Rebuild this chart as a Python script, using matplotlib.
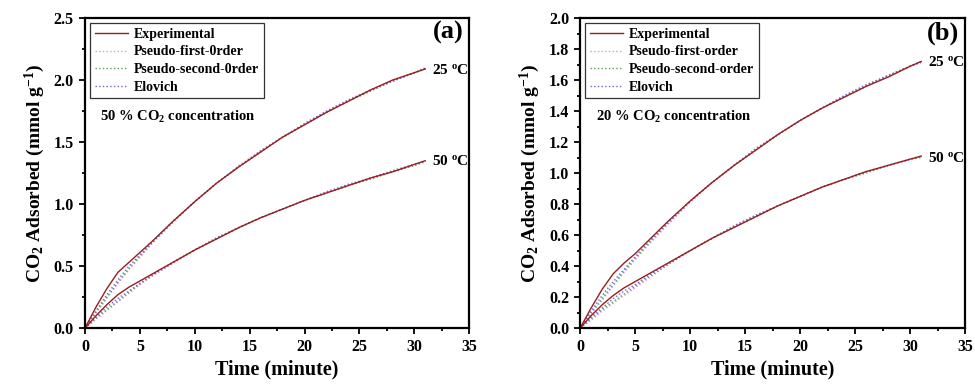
import matplotlib
matplotlib.use("Agg")
import matplotlib.pyplot as plt
from matplotlib.ticker import MultipleLocator, FormatStrFormatter

plt.rcParams['font.family'] = ['Liberation Serif', 'DejaVu Serif']
plt.rcParams['font.weight'] = 'bold'
plt.rcParams['mathtext.fontset'] = 'custom'
plt.rcParams['mathtext.rm'] = 'Liberation Serif:bold'
plt.rcParams['mathtext.bf'] = 'Liberation Serif:bold'
plt.rcParams['mathtext.it'] = 'Liberation Serif:bold:italic'

# time points (minute)
t = [0, 1, 2, 3, 4, 5, 6, 8, 10, 12, 14, 16, 18, 20, 22, 24, 26, 28, 30, 31]

# (a) 50 % CO2
a25_exp = [0, 0.17, 0.32, 0.45, 0.53, 0.61, 0.69, 0.86, 1.02, 1.17, 1.30, 1.42, 1.54, 1.64, 1.74, 1.83, 1.92, 2.00, 2.06, 2.09]
a25_pfo = [0, 0.12, 0.24, 0.36, 0.47, 0.57, 0.67, 0.85, 1.02, 1.17, 1.31, 1.43, 1.54, 1.65, 1.75, 1.84, 1.92, 1.99, 2.06, 2.09]
a25_pso = [0, 0.13, 0.25, 0.37, 0.48, 0.58, 0.68, 0.86, 1.02, 1.17, 1.30, 1.42, 1.54, 1.64, 1.74, 1.83, 1.91, 1.99, 2.06, 2.09]
a25_elo = [0, 0.14, 0.27, 0.39, 0.50, 0.59, 0.68, 0.86, 1.02, 1.17, 1.30, 1.43, 1.54, 1.65, 1.75, 1.84, 1.92, 1.99, 2.06, 2.10]
a50_exp = [0, 0.10, 0.19, 0.27, 0.33, 0.38, 0.43, 0.53, 0.63, 0.72, 0.81, 0.89, 0.96, 1.03, 1.09, 1.15, 1.21, 1.26, 1.32, 1.35]
a50_pfo = [0, 0.07, 0.14, 0.21, 0.28, 0.35, 0.41, 0.52, 0.63, 0.72, 0.81, 0.89, 0.96, 1.03, 1.09, 1.15, 1.21, 1.26, 1.32, 1.35]
a50_pso = [0, 0.08, 0.15, 0.22, 0.29, 0.36, 0.42, 0.53, 0.63, 0.72, 0.81, 0.89, 0.96, 1.03, 1.09, 1.15, 1.20, 1.26, 1.31, 1.34]
a50_elo = [0, 0.09, 0.17, 0.24, 0.30, 0.36, 0.42, 0.53, 0.63, 0.73, 0.81, 0.89, 0.96, 1.03, 1.10, 1.16, 1.21, 1.27, 1.32, 1.35]

# (b) 20 % CO2
b25_exp = [0, 0.13, 0.25, 0.35, 0.42, 0.48, 0.55, 0.69, 0.82, 0.94, 1.05, 1.15, 1.25, 1.34, 1.42, 1.49, 1.56, 1.62, 1.69, 1.72]
b25_pfo = [0, 0.09, 0.18, 0.27, 0.36, 0.44, 0.52, 0.67, 0.81, 0.94, 1.05, 1.16, 1.25, 1.34, 1.42, 1.50, 1.57, 1.63, 1.69, 1.71]
b25_pso = [0, 0.10, 0.19, 0.28, 0.37, 0.45, 0.53, 0.68, 0.82, 0.94, 1.05, 1.15, 1.25, 1.34, 1.42, 1.49, 1.56, 1.63, 1.69, 1.72]
b25_elo = [0, 0.11, 0.21, 0.30, 0.38, 0.46, 0.54, 0.68, 0.82, 0.94, 1.05, 1.16, 1.25, 1.34, 1.42, 1.50, 1.57, 1.63, 1.69, 1.72]
b50_exp = [0, 0.08, 0.15, 0.21, 0.26, 0.30, 0.34, 0.42, 0.50, 0.58, 0.65, 0.72, 0.79, 0.85, 0.91, 0.96, 1.01, 1.05, 1.09, 1.11]
b50_pfo = [0, 0.05, 0.11, 0.16, 0.21, 0.26, 0.31, 0.41, 0.50, 0.58, 0.66, 0.73, 0.79, 0.85, 0.91, 0.96, 1.01, 1.05, 1.09, 1.11]
b50_pso = [0, 0.06, 0.12, 0.17, 0.22, 0.27, 0.32, 0.41, 0.50, 0.58, 0.65, 0.72, 0.79, 0.85, 0.91, 0.96, 1.00, 1.05, 1.09, 1.10]
b50_elo = [0, 0.07, 0.13, 0.19, 0.24, 0.28, 0.33, 0.42, 0.50, 0.58, 0.66, 0.73, 0.79, 0.85, 0.91, 0.96, 1.01, 1.05, 1.09, 1.11]

names = ["Experimental", "Pseudo-first-0rder", "Pseudo-second-0rder", "Elovich"]
names_b = ["Experimental", "Pseudo-first-order", "Pseudo-second-order", "Elovich"]
colors = ["#9b1c1c", "#d49ad4", "#5f9a5f", "#6a6ad8"]
styles = ["-", ":", ":", ":"]

fig = plt.figure(figsize=(9.75, 3.86), dpi=100)
ax1 = fig.add_axes([0.0872, 0.150, 0.394, 0.803])
ax2 = fig.add_axes([0.595, 0.150, 0.395, 0.803])

panels = [
    (ax1, [a25_exp, a25_pfo, a25_pso, a25_elo], [a50_exp, a50_pfo, a50_pso, a50_elo],
     names, 2.5, "(a)", "50 % CO$_\\mathbf{2}$ concentration", 2.08, 1.35),
    (ax2, [b25_exp, b25_pfo, b25_pso, b25_elo], [b50_exp, b50_pfo, b50_pso, b50_elo],
     names_b, 2.0, "(b)", "20 % CO$_\\mathbf{2}$ concentration", 1.72, 1.10),
]

for ax, s25, s50, labels, ymax, tag, conc, y25, y50 in panels:
    # models first, experimental on top
    for i in [1, 2, 3, 0]:
        ax.plot(t, s25[i], linestyle=styles[i], color=colors[i], lw=1.0, label=labels[i])
        ax.plot(t, s50[i], linestyle=styles[i], color=colors[i], lw=1.0)
    handles, labs = ax.get_legend_handles_labels()
    order = [labs.index(l) for l in labels]
    leg = ax.legend([handles[j] for j in order], [labs[j] for j in order],
                    loc="upper left", fontsize=10, frameon=True, fancybox=False,
                    edgecolor="black", handlelength=2.4, borderaxespad=0.35,
                    labelspacing=0.33, handletextpad=0.4, borderpad=0.35)
    leg.get_frame().set_linewidth(0.9)
    ax.set_xlim(0, 35)
    ax.set_ylim(0, ymax)
    ax.xaxis.set_major_locator(MultipleLocator(5))
    ax.xaxis.set_minor_locator(MultipleLocator(2.5))
    ax.yaxis.set_major_locator(MultipleLocator(0.5 if ymax == 2.5 else 0.2))
    ax.yaxis.set_minor_locator(MultipleLocator(0.25 if ymax == 2.5 else 0.1))
    ax.yaxis.set_major_formatter(FormatStrFormatter('%.1f'))
    ax.tick_params(which="both", direction="out", top=False, right=False, labelsize=11.5, width=1.3)
    ax.tick_params(which="major", length=4.5)
    ax.tick_params(which="minor", length=2.5)
    for sp in ax.spines.values():
        sp.set_linewidth(1.6)
    ax.set_xlabel("Time (minute)", fontsize=14.5, fontweight="bold", labelpad=3)
    ax.set_ylabel("CO$_\\mathbf{2}$ Adsorbed (mmol g$^{\\mathbf{-1}}$)", fontsize=14,
                  fontweight="bold", labelpad=5)
    ax.text(0.985, 0.99, tag, transform=ax.transAxes, ha="right", va="top",
            fontsize=19, fontweight="bold")
    ax.text(0.04, 0.68, conc, transform=ax.transAxes, ha="left", va="center",
            fontsize=10.5, fontweight="bold")
    ax.text(31.6, y25, "25 $^{\\mathbf{o}}$C", ha="left", va="center", fontsize=11, fontweight="bold")
    ax.text(31.6, y50, "50 $^{\\mathbf{o}}$C", ha="left", va="center", fontsize=11, fontweight="bold")

fig.savefig("out.png", dpi=100)
